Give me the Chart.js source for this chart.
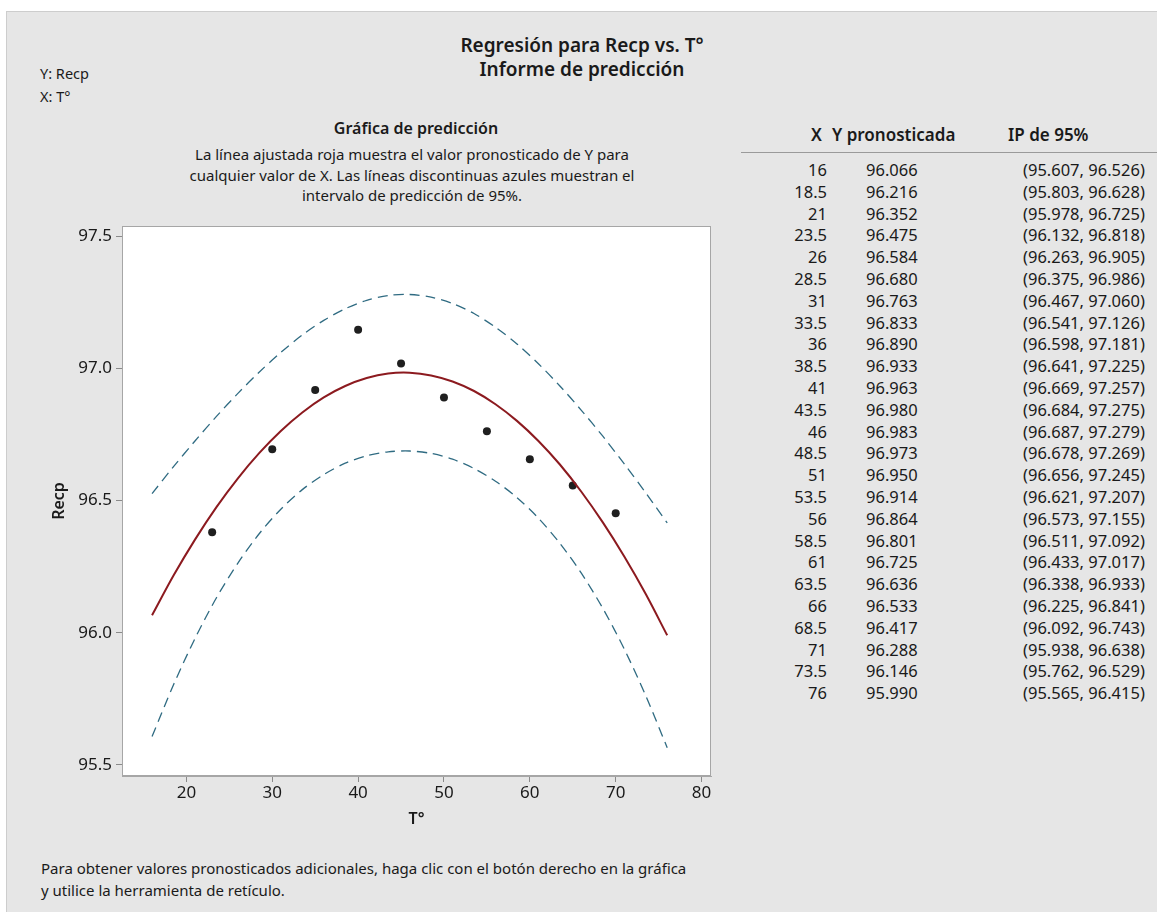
<!DOCTYPE html>
<html lang="es">
<head>
<meta charset="utf-8">
<title>Regresión para Recp vs. T°</title>
<script src="https://cdn.jsdelivr.net/npm/chart.js@4.4.1/dist/chart.umd.min.js"></script>
<style>
  body { margin: 0; background: #fff; font-family: "Noto Sans", sans-serif; color: #1a1a1a; }
  #panel { position: absolute; left: 6px; top: 11px; width: 1200px; height: 960px;
           background: #e6e6e6; border-left: 1px solid #cdcdcd; border-top: 1px solid #cdcdcd; }
  .t { position: absolute; white-space: nowrap; }
  .c { text-align: center; }
  #chartBox { position: absolute; left: 0; top: 200px; width: 740px; height: 640px; }
  #tabla .t { font-size: 16.5px; line-height: 20px; }
</style>
</head>
<body>
<div id="panel"></div>

<div class="t c" style="left:282px; top:33px; width:600px; font-size:19px; line-height:24px; font-weight:600;">Regresión para Recp vs. T°</div>
<div class="t c" style="left:282px; top:57px; width:600px; font-size:19px; line-height:24px; font-weight:600;">Informe de predicción</div>

<div class="t" style="left:40px; top:63px; font-size:14.5px; line-height:20px;">Y: Recp</div>
<div class="t" style="left:40px; top:86px; font-size:14.5px; line-height:20px;">X: T°</div>

<div class="t c" style="left:116px; top:118px; width:600px; font-size:16px; line-height:20px; font-weight:600;">Gráfica de predicción</div>
<div class="t c" style="left:112px; top:144px; width:600px; font-size:15px; line-height:20.5px;">La línea ajustada roja muestra el valor pronosticado de Y para<br>cualquier valor de X. Las líneas discontinuas azules muestran el<br>intervalo de predicción de 95%.</div>

<div id="chartBox"><canvas id="grafica" width="740" height="640"></canvas></div>

<div id="tabla"></div>

<div class="t" style="left:41px; top:857px; font-size:15px; line-height:22px;">Para obtener valores pronosticados adicionales, haga clic con el botón derecho en la gráfica<br>y utilice la herramienta de retículo.</div>

<script>
// Datos observados
const tObs = [23, 30, 35, 40, 45, 50, 55, 60, 65, 70];
const recpObs = [96.38, 96.694, 96.918, 97.146, 97.018, 96.889, 96.762, 96.656, 96.557, 96.452];

// Informe de predicción
const xPred = [16, 18.5, 21, 23.5, 26, 28.5, 31, 33.5, 36, 38.5, 41, 43.5, 46, 48.5, 51, 53.5, 56, 58.5, 61, 63.5, 66, 68.5, 71, 73.5, 76];
const yPred = [96.066, 96.216, 96.352, 96.475, 96.584, 96.680, 96.763, 96.833, 96.890, 96.933, 96.963, 96.980, 96.983, 96.973, 96.950, 96.914, 96.864, 96.801, 96.725, 96.636, 96.533, 96.417, 96.288, 96.146, 95.990];
const ipLow = [95.607, 95.803, 95.978, 96.132, 96.263, 96.375, 96.467, 96.541, 96.598, 96.641, 96.669, 96.684, 96.687, 96.678, 96.656, 96.621, 96.573, 96.511, 96.433, 96.338, 96.225, 96.092, 95.938, 95.762, 95.565];
const ipHigh = [96.526, 96.628, 96.725, 96.818, 96.905, 96.986, 97.060, 97.126, 97.181, 97.225, 97.257, 97.275, 97.279, 97.269, 97.245, 97.207, 97.155, 97.092, 97.017, 96.933, 96.841, 96.743, 96.638, 96.529, 96.415];

// Marcas de los ejes
const xTicks = [20, 30, 40, 50, 60, 70, 80];
const yTicks = [95.5, 96.0, 96.5, 97.0, 97.5];

// Tabla de la derecha
const tabla = document.getElementById('tabla');
function celda(txt, estilo) {
	const d = document.createElement('div');
	d.className = 't';
	d.style.cssText = estilo;
	d.textContent = txt;
	tabla.appendChild(d);
}
celda('X', 'left:811px; top:125px; font-weight:600; font-size:17px;');
celda('Y pronosticada', 'left:832px; top:125px; font-weight:600; font-size:17px;');
celda('IP de 95%', 'left:1008px; top:125px; font-weight:600; font-size:17px;');
const linea = document.createElement('div');
linea.style.cssText = 'position:absolute; left:741px; top:152px; width:420px; height:1px; background:#9a9a9a;';
tabla.appendChild(linea);
xPred.forEach(function (x, i) {
	const top = 160 + i * 21.8;
	celda(String(x), 'right:' + (1157 - 827) + 'px; top:' + top + 'px;');
	celda(yPred[i].toFixed(3), 'left:866px; top:' + top + 'px;');
	celda('(' + ipLow[i].toFixed(3) + ', ' + ipHigh[i].toFixed(3) + ')', 'left:1023px; top:' + top + 'px;');
});

// Gráfica
Chart.defaults.font.family = '"Noto Sans", sans-serif';
Chart.defaults.color = '#1a1a1a';

const marco = {
	id: 'marco',
	beforeDraw(chart) {
		const a = chart.chartArea, ctx = chart.ctx;
		ctx.save();
		ctx.fillStyle = '#ffffff';
		ctx.fillRect(a.left, a.top, a.right - a.left, a.bottom - a.top);
		ctx.restore();
	},
	afterDraw(chart) {
		const a = chart.chartArea, ctx = chart.ctx;
		ctx.save();
		ctx.strokeStyle = '#a6a6a6';
		ctx.lineWidth = 1;
		ctx.strokeRect(a.left + 0.5, a.top + 0.5, a.right - a.left - 1, a.bottom - a.top - 1);
		ctx.restore();
	}
};

const curva = (ys) => xPred.map((x, i) => ({ x: x, y: ys[i] }));

new Chart(document.getElementById('grafica'), {
	type: 'scatter',
	data: {
		datasets: [
			{
				label: 'IP de 95% (superior)',
				data: curva(ipHigh),
				showLine: true,
				borderColor: '#2f6b82',
				borderWidth: 1.3,
				borderDash: [10, 6],
				pointRadius: 0,
				tension: 0.3,
			},
			{
				label: 'IP de 95% (inferior)',
				data: curva(ipLow),
				showLine: true,
				borderColor: '#2f6b82',
				borderWidth: 1.3,
				borderDash: [10, 6],
				pointRadius: 0,
				tension: 0.3,
			},
			{
				label: 'Ajuste',
				data: curva(yPred),
				showLine: true,
				borderColor: '#8c1a1f',
				borderWidth: 2,
				pointRadius: 0,
				tension: 0.3,
			},
			{
				label: 'Recp',
				data: tObs.map((x, i) => ({ x: x, y: recpObs[i] })),
				pointRadius: 4,
				pointBackgroundColor: '#1f1f1f',
				pointBorderWidth: 0,
			},
		],
	},
	options: {
		responsive: false,
		animation: false,
		layout: { padding: { top: 26, right: 29, left: 0, bottom: 0 } },
		plugins: { legend: { display: false } },
		scales: {
			x: {
				type: 'linear',
				min: 12.5,
				max: 81.1,
				afterBuildTicks: (s) => { s.ticks = xTicks.map((v) => ({ value: v })); },
				afterFit: (s) => { s.height = 64; },
				ticks: { font: { size: 17 }, padding: 1 },
				grid: { drawOnChartArea: false, drawTicks: true, tickLength: 6, color: '#8a8a8a' },
				border: { display: true, color: '#a6a6a6' },
				title: { display: true, text: 'T°', font: { size: 16, weight: '600' }, padding: { top: 2, bottom: 11 } },
			},
			y: {
				type: 'linear',
				min: 95.458,
				max: 97.538,
				afterBuildTicks: (s) => { s.ticks = yTicks.map((v) => ({ value: v })); },
				afterFit: (s) => { s.width = 122; },
				ticks: { font: { size: 17 }, padding: 4, callback: (v) => Number(v).toFixed(1) },
				grid: { drawOnChartArea: false, drawTicks: true, tickLength: 6, color: '#8a8a8a' },
				border: { display: true, color: '#a6a6a6' },
				title: { display: true, text: 'Recp', font: { size: 16, weight: '600' }, padding: { top: 50, bottom: 4 } },
			},
		},
	},
	plugins: [marco],
});
</script>
</body>
</html>
